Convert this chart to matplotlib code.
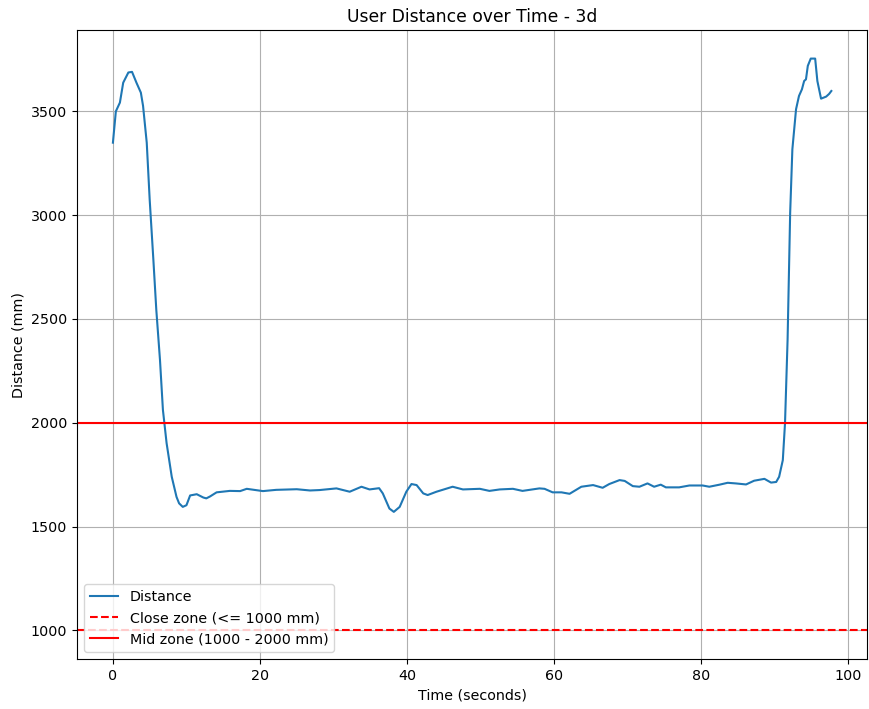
import matplotlib
matplotlib.use("Agg")
import matplotlib.pyplot as plt

time_s = [0.0, 0.4, 0.95, 1.4, 2.1, 2.6, 3.2, 3.8, 4.1, 4.6, 5.0, 5.5, 5.9, 6.4, 6.8, 7.3,
          8.0, 8.65, 9.0, 9.5, 10.0, 10.5, 11.4, 12.3, 12.7, 13.2, 14.1, 15.9, 17.3, 18.2, 20.4,
          22.2, 25.0, 26.8, 28.1, 30.4, 32.2, 33.8, 34.9, 36.2, 36.7, 37.6, 38.2, 39.0, 39.9,
          40.6, 41.3, 42.2, 42.8, 44.0, 46.2, 47.6, 49.9, 51.2, 52.6, 54.4, 55.7, 58.0, 58.7,
          59.8, 61.0, 62.1, 63.7, 65.3, 66.6, 67.5, 68.9, 69.6, 70.7, 71.6, 72.7, 73.6, 74.5,
          75.2, 77.0, 78.4, 80.2, 81.1, 82.5, 83.6, 84.7, 86.1, 87.2, 88.6, 89.5, 90.2, 90.6,
          91.1, 91.4, 91.75, 92.1, 92.4, 92.9, 93.3, 93.7, 94.0, 94.25, 94.5, 94.9, 95.5, 95.8,
          96.3, 97.0, 97.4, 97.7]
distance_mm = [3349, 3500, 3542, 3638, 3687, 3690, 3638, 3590, 3526, 3349, 3075, 2786, 2544, 2303, 2062, 1902,
               1740, 1643, 1612, 1595, 1603, 1650, 1656, 1640, 1636, 1645, 1665, 1672, 1671, 1682, 1671,
               1677, 1680, 1674, 1676, 1684, 1668, 1692, 1679, 1685, 1660, 1587, 1571, 1595, 1668,
               1705, 1700, 1660, 1652, 1668, 1692, 1679, 1682, 1672, 1679, 1682, 1672, 1684, 1682,
               1665, 1665, 1658, 1692, 1700, 1687, 1705, 1724, 1720, 1695, 1692, 1708, 1692, 1702,
               1689, 1689, 1698, 1698, 1692, 1702, 1711, 1708, 1703, 1721, 1730, 1712, 1715, 1740,
               1820, 1998, 2400, 3011, 3317, 3510, 3574, 3606, 3646, 3654, 3719, 3754, 3754, 3646,
               3561, 3571, 3584, 3598]

close_zone = 1000
mid_zone = 2000

plt.rcParams["font.size"] = 10.25

fig = plt.figure(figsize=(8.69, 7.09), dpi=100)
ax = fig.add_axes([0.0886, 0.0705, 0.9094, 0.8872])
ax.plot(time_s, distance_mm, label="Distance", color="#1f77b4")
ax.axhline(close_zone, color="red", linestyle="--", label="Close zone (<= 1000 mm)")
ax.axhline(mid_zone, color="red", linestyle="-", label="Mid zone (1000 - 2000 mm)")
ax.set_title("User Distance over Time - 3d")
ax.set_xlabel("Time (seconds)")
ax.set_ylabel("Distance (mm)")
ax.grid(True)
ax.legend(loc="lower left")
fig.savefig("out.png", dpi=100)
